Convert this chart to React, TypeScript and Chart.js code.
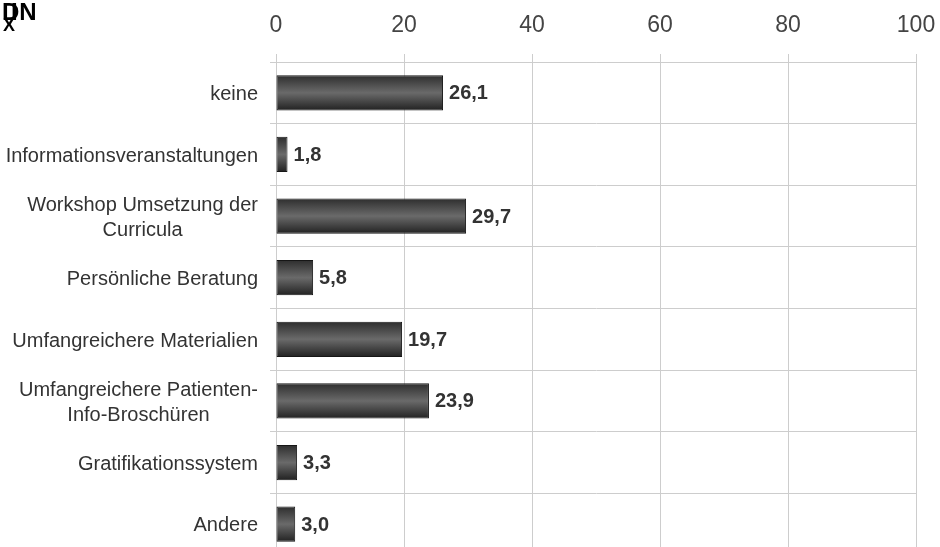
import { useEffect, useRef } from "react";
import { Chart, registerables } from "chart.js";

Chart.register(...registerables);

// Categories (multi-line labels are arrays of lines)
const categories: string[][] = [
  ["keine"],
  ["Informationsveranstaltungen"],
  ["Workshop Umsetzung der", "Curricula"],
  ["Persönliche Beratung"],
  ["Umfangreichere Materialien"],
  ["Umfangreichere Patienten-", "Info-Broschüren"],
  ["Gratifikationssystem"],
  ["Andere"],
];

// Percentages per category
const values: number[] = [26.1, 1.8, 29.7, 5.8, 19.7, 23.9, 3.3, 3.0];

// Axis range and tick step
const xMin = 0;
const xMax = 100;
const xStep = 20;

// Overlapping marker glyphs in the top-left corner
const cornerMark: string[] = ["DN", "I", "X"];

const FONT = "'Liberation Sans', Arial, Helvetica, sans-serif";
const GRID = "#cdcdcd";

const fmt = (v: number) => v.toFixed(1).replace(".", ",");

const categoryLabelPlugin = {
  id: "categoryLabels",
  afterDraw(chart: any) {
    const { ctx, scales } = chart;
    const y = scales.y;
    const rightEdge = chart.chartArea.left - 18;
    const size = 20;
    const pitch = 25;
    ctx.save();
    ctx.font = `${size}px ${FONT}`;
    ctx.fillStyle = "#333333";
    ctx.textBaseline = "alphabetic";
    ctx.textAlign = "center";
    categories.forEach((lines, i) => {
      const center = y.getPixelForValue(i);
      const widest = Math.max(...lines.map((l) => ctx.measureText(l).width));
      const cx = rightEdge - widest / 2;
      const firstCap = center - ((lines.length - 1) * pitch) / 2;
      lines.forEach((line, j) => {
        ctx.fillText(line, cx, firstCap + j * pitch + size * 0.36);
      });
    });
    ctx.restore();
  },
};

const valueLabelPlugin = {
  id: "valueLabels",
  afterDatasetsDraw(chart: any) {
    const { ctx } = chart;
    const meta = chart.getDatasetMeta(0);
    ctx.save();
    ctx.font = `bold 20px ${FONT}`;
    ctx.fillStyle = "#333333";
    ctx.textAlign = "left";
    ctx.textBaseline = "middle";
    meta.data.forEach((el: any, i: number) => {
      ctx.fillText(fmt(values[i]), el.x + 6, el.y + 1);
    });
    ctx.restore();
  },
};

const cornerPlugin = {
  id: "cornerMark",
  afterDraw(chart: any) {
    const { ctx } = chart;
    ctx.save();
    ctx.fillStyle = "#000000";
    ctx.textBaseline = "top";
    ctx.textAlign = "left";
    ctx.font = `bold 24px ${FONT}`;
    ctx.fillText(cornerMark[0], 2, 1);
    ctx.fillText(cornerMark[1], 11, 1);
    ctx.font = `bold 18px ${FONT}`;
    ctx.fillText(cornerMark[2], 3, 17);
    ctx.restore();
  },
};

export default function App() {
  const canvasRef = useRef<HTMLCanvasElement | null>(null);

  useEffect(() => {
    if (!canvasRef.current) return;
    const chart = new Chart(canvasRef.current, {
      type: "bar",
      data: {
        labels: categories.map((c) => c.join(" ")),
        datasets: [
          {
            data: values,
            backgroundColor: (c: any) => {
              const ch = c.chart;
              const ys = ch.scales?.y;
              if (!ys || c.dataIndex === undefined) return "#4a4a4a";
              const center = ys.getPixelForValue(c.dataIndex);
              if (!Number.isFinite(center)) return "#4a4a4a";
              const half = 17.5;
              const g = ch.ctx.createLinearGradient(0, center - half, 0, center + half);
              g.addColorStop(0, "#2e2e2e");
              g.addColorStop(0.5, "#6a6a6a");
              g.addColorStop(1, "#222222");
              return g;
            },
            borderColor: "#161616",
            borderWidth: 1,
            borderSkipped: false,
            barPercentage: 0.57,
            categoryPercentage: 1,
          },
        ],
      },
      options: {
        indexAxis: "y",
        animation: false,
        responsive: true,
        maintainAspectRatio: false,
        layout: { padding: { left: 0, right: 24, top: 0, bottom: 5 } },
        plugins: {
          legend: { display: false },
          tooltip: { enabled: false },
        },
        scales: {
          x: {
            type: "linear",
            position: "top",
            min: xMin,
            max: xMax,
            ticks: {
              stepSize: xStep,
              color: "#444444",
              padding: 15,
              font: { family: FONT, size: 23 },
            },
            grid: { color: GRID, lineWidth: 1, tickLength: 8 },
            border: { color: GRID },
            afterFit: (s: any) => {
              s.height = 62;
              s.paddingLeft = 0;
              s.paddingRight = 0;
            },
          },
          y: {
            type: "category",
            ticks: { display: false },
            grid: { color: GRID, lineWidth: 1, tickLength: 6, offset: true },
            border: { color: GRID },
            afterFit: (s: any) => {
              s.width = 276;
            },
          },
        },
      },
      plugins: [categoryLabelPlugin, valueLabelPlugin, cornerPlugin],
    } as any);
    return () => chart.destroy();
  }, []);

  return (
    <div style={{ position: "absolute", left: 0, top: 0, width: 940, height: 560 }}>
      <canvas ref={canvasRef} />
    </div>
  );
}
